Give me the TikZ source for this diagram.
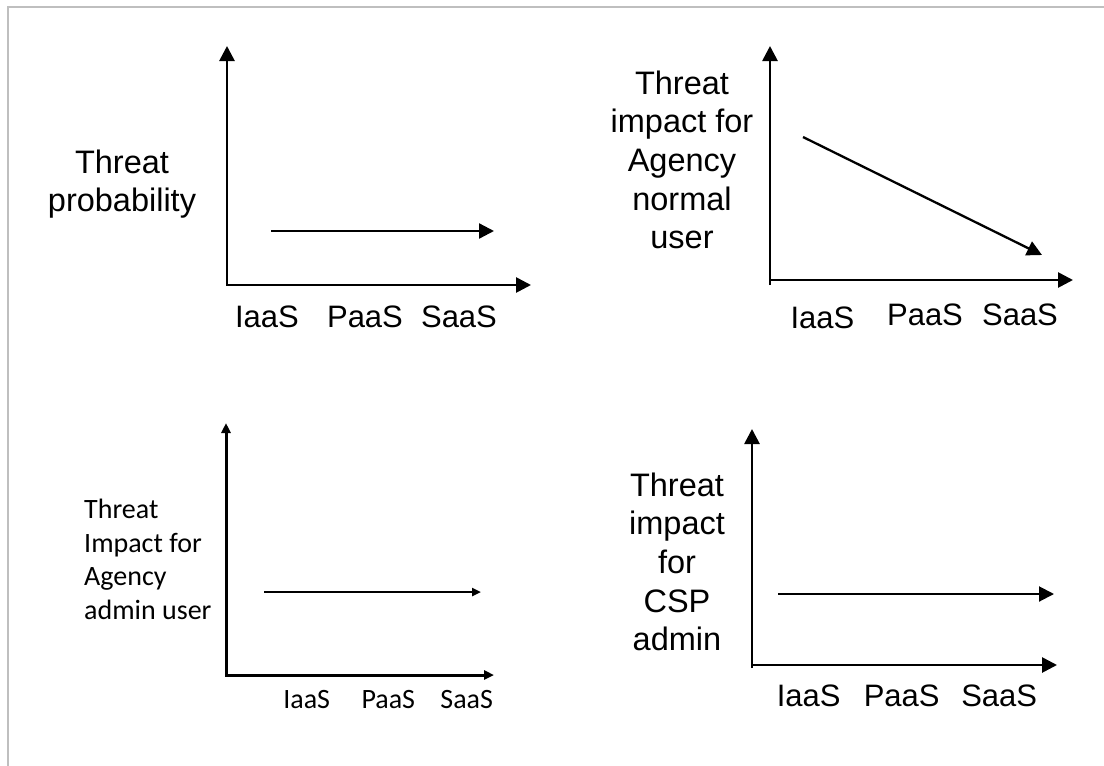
\documentclass[tikz,border=0pt]{standalone}
\usepackage{fontspec}
\setmainfont{Liberation Sans}
\newfontfamily\calfont{Carlito}
\usetikzlibrary{arrows.meta}
\begin{document}
\begin{tikzpicture}[x=1pt,y=-1pt,
  bighead/.style={-{Triangle[length=15pt,width=15pt]}},
  axisline/.style={line width=2.7pt, bighead},
  trendline/.style={line width=2.3pt, bighead},
  smalltrend/.style={line width=2.8pt, -{Triangle[length=9pt,width=8pt]}},
  tick/.style={font=\fontsize{31}{36}\selectfont, inner sep=0pt, anchor=base},
  smalltick/.style={font=\calfont\fontsize{28}{34}\selectfont, inner sep=0pt, anchor=base},
  ylab/.style={font=\fontsize{32.5}{38.6}\selectfont, inner sep=0pt, anchor=north, align=center},
  smallylab/.style={font=\calfont\fontsize{28}{33.9}\selectfont, inner sep=0pt, anchor=north west, align=left},
  frameline/.style={gray!50, line width=2pt}
]
\useasboundingbox (0,0) rectangle (1104,766);
\fill[white] (0,0) rectangle (1104,766);
\draw[frameline] (8,766) -- (8,7) -- (1104,7);

% ---------- Panel 1 ----------
\coordinate (p1y) at (227,46);
\coordinate (p1o) at (227,285);
\coordinate (p1x) at (531,285);
\draw[line width=2.7pt, {Triangle[length=15pt,width=15pt]}-{Triangle[length=15pt,width=15pt]}] (p1y) -- (p1o) -- (p1x);
\coordinate (p1s) at (271,231);
\coordinate (p1e) at (494,231);
\draw[trendline] (p1s) -- (p1e);
\node[ylab] (p1lab) at (122,149.5) {Threat\\probability};
\node[tick] (p1i) at (267,327.5) {IaaS};
\node[tick] (p1p) at (365,327.5) {PaaS};
\node[tick] (p1q) at (459,327.5) {SaaS};

% ---------- Panel 2 ----------
\coordinate (p2y) at (770,46);
\coordinate (p2b) at (770,285);
\coordinate (p2o) at (770,280);
\coordinate (p2x) at (1073,280);
\draw[axisline] (p2b) -- (p2y);
\draw[axisline] (p2o) -- (p2x);
\coordinate (p2s) at (803,137);
\coordinate (p2e) at (1042,255);
\draw[trendline] (p2s) -- (p2e);
\node[ylab] (p2lab) at (682,70.5) {Threat\\impact for\\Agency\\normal\\user};
\node[tick] (p2i) at (822.5,328) {IaaS};
\node[tick] (p2p) at (925,325.5) {PaaS};
\node[tick] (p2q) at (1020,325.5) {SaaS};

% ---------- Panel 3 ----------
\coordinate (p3y) at (226,423);
\coordinate (p3o) at (226,675);
\coordinate (p3x) at (494,675);
\draw[line width=3pt, {Triangle[length=10pt,width=9pt]}-{Triangle[length=10pt,width=9pt]}] (p3y) -- (p3o) -- (p3x);
\coordinate (p3s) at (264,592);
\coordinate (p3e) at (481,592);
\draw[smalltrend] (p3s) -- (p3e);
\node[smallylab] (p3lab) at (84,498.5) {Threat\\Impact for\\Agency\\admin user};
\node[smalltick] (p3i) at (306.7,708.3) {IaaS};
\node[smalltick] (p3p) at (388.3,708.3) {PaaS};
\node[smalltick] (p3q) at (466.7,708.3) {SaaS};

% ---------- Panel 4 ----------
\coordinate (p4y) at (752,429);
\coordinate (p4b) at (752,668);
\coordinate (p4o) at (752,665);
\coordinate (p4x) at (1057,665);
\draw[axisline] (p4b) -- (p4y);
\draw[axisline] (p4o) -- (p4x);
\coordinate (p4s) at (778,594);
\coordinate (p4e) at (1054,594);
\draw[line width=2pt, bighead] (p4s) -- (p4e);
\node[ylab] (p4lab) at (677,472.5) {Threat\\impact\\for\\CSP\\admin};
\node[tick] (p4i) at (808.7,706.7) {IaaS};
\node[tick] (p4p) at (901.7,706.7) {PaaS};
\node[tick] (p4q) at (999.2,706.7) {SaaS};
\end{tikzpicture}
\end{document}
